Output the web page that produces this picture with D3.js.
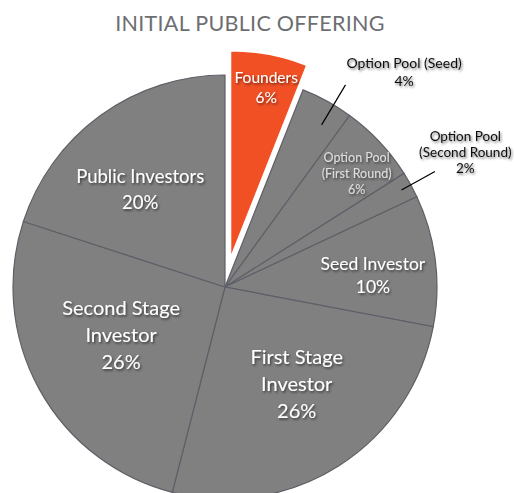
<!DOCTYPE html>
<html>
<head>
<meta charset="utf-8">
<script src="https://cdn.jsdelivr.net/npm/d3@7"></script>
<style>
  html, body { margin: 0; padding: 0; background: #fff; }
  svg { display: block; font-family: Lato, "Open Sans", sans-serif; }
</style>
</head>
<body>
<svg id="chart" width="514" height="493"></svg>
<script>
// slices, clockwise from 12 o'clock
var names = ['Founders', 'Option Pool (Seed)', 'Option Pool (First Round)', 'Option Pool (Second Round)',
             'Seed Investor', 'First Stage Investor', 'Second Stage Investor', 'Public Investors'];
var shares = [6, 4, 6, 2, 10, 26, 26, 20];
var labelLines = [
  ['Founders', '6%'],
  ['Option Pool (Seed)', '4%'],
  ['Option Pool', '(First Round)', '6%'],
  ['Option Pool', '(Second Round)', '2%'],
  ['Seed Investor', '10%'],
  ['First Stage', 'Investor', '26%'],
  ['Second Stage', 'Investor', '26%'],
  ['Public Investors', '20%']
];
var title = 'INITIAL PUBLIC OFFERING';

// label placement: radius factor, angle nudge (deg), font size, line height
var labelStyle = [
  {k: 0.84, da: 1,    size: 15.5, lh: 20, kind: 'in'},
  {k: 1.32, da: 11,   size: 14,   lh: 18, kind: 'out', lead: [0.89, 1.11, 2]},
  {k: 0.82, da: 2.4,  size: 12.5, lh: 16, kind: 'in', dim: true},
  {k: 1.30, da: -0.5, size: 13.5, lh: 16, kind: 'out', lead: [0.95, 1.13, 0]},
  {k: 0.70, da: 2.5,  size: 17.5, lh: 23, kind: 'in'},
  {k: 0.57, da: -4,   size: 20,   lh: 27, kind: 'in'},
  {k: 0.54, da: 4,    size: 20,   lh: 27, kind: 'in'},
  {k: 0.61, da: -5,   size: 18.5, lh: 26, kind: 'in'}
];

var cx = 225, cy = 287, radius = 212, explode = 25.5;
var svg = d3.select('#chart');

var defs = svg.append('defs');
defs.append('filter').attr('id', 'shadow')
    .attr('x', '-20%').attr('y', '-40%').attr('width', '140%').attr('height', '180%')
  .append('feDropShadow')
    .attr('dx', 1.2).attr('dy', 1.6).attr('stdDeviation', 1.1)
    .attr('flood-color', '#000').attr('flood-opacity', 0.55);

svg.append('text')
    .attr('x', 250).attr('y', 31)
    .attr('text-anchor', 'middle')
    .attr('font-size', 21.5).attr('font-weight', 400)
    .attr('letter-spacing', 0.3)
    .attr('fill', '#6d6e71')
    .text(title);

var pie = d3.pie().sort(null).value(function(d) { return d; });
var arcs = pie(shares);
var arc = d3.arc().innerRadius(0).outerRadius(radius);

var g = svg.append('g').attr('transform', 'translate(' + cx + ',' + cy + ')');

var offset = function(d) {
  if (d.index !== 0) { return [0, 0]; }
  var a = (d.startAngle + d.endAngle) / 2;
  return [explode * Math.sin(a), -explode * Math.cos(a)];
};

g.selectAll('.slice')
    .data(arcs)
    .enter().append('path')
    .attr('class', 'slice')
    .attr('d', arc)
    .attr('transform', function(d) { var o = offset(d); return 'translate(' + o[0] + ',' + o[1] + ')'; })
    .attr('fill', function(d) { return d.index === 0 ? '#f15025' : '#808080'; })
    .attr('stroke', function(d) { return d.index === 0 ? '#ffffff' : '#5e5f68'; })
    .attr('stroke-width', function(d) { return d.index === 0 ? 3 : 1.2; })
    .attr('stroke-linejoin', 'miter');

// founders drawn last so its white border sits on top
g.selectAll('.slice').filter(function(d) { return d.index === 0; }).raise();

var polar = function(a, r, o) {
  return [o[0] + r * Math.sin(a), o[1] - r * Math.cos(a)];
};

arcs.forEach(function(d, i) {
  var st = labelStyle[i];
  var mid = (d.startAngle + d.endAngle) / 2;
  var o = offset(d);
  if (st.lead) {
    var la = mid + st.lead[2] * Math.PI / 180;
    var p1 = polar(la, st.lead[0] * radius, o), p2 = polar(la, st.lead[1] * radius, o);
    g.append('line')
        .attr('x1', p1[0]).attr('y1', p1[1]).attr('x2', p2[0]).attr('y2', p2[1])
        .attr('stroke', '#000').attr('stroke-width', 1.2);
  }
  var p = polar(mid + st.da * Math.PI / 180, st.k * radius, o);
  var lines = labelLines[i];
  var t = g.append('text')
      .attr('text-anchor', 'middle')
      .attr('font-size', st.size)
      .attr('fill', st.kind === 'out' ? '#111' : (st.dim ? '#dedede' : '#ffffff'))
      .attr('filter', 'url(#shadow)');
  lines.forEach(function(s, j) {
    t.append('tspan')
        .attr('x', p[0])
        .attr('y', p[1] + (j - (lines.length - 1) / 2) * st.lh + st.size * 0.36)
        .text(s);
  });
});
</script>
</body>
</html>
